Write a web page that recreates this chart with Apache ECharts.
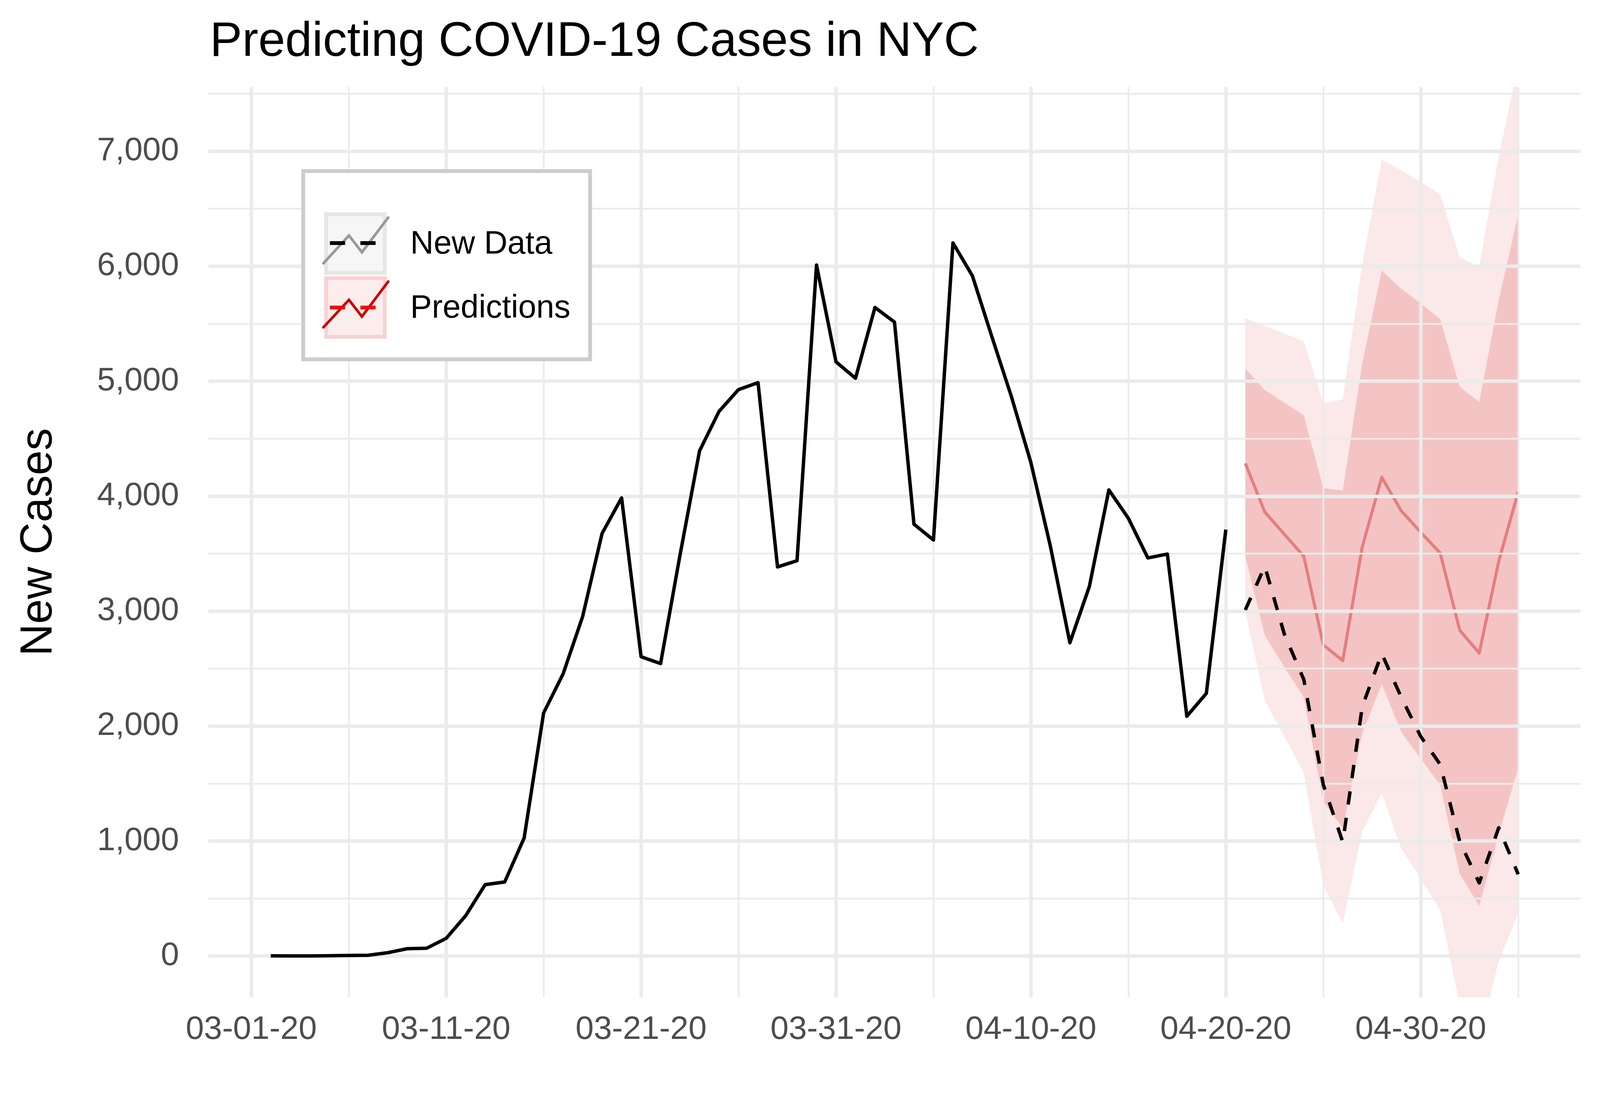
<!DOCTYPE html>
<html>
  <head>
    <meta charset="utf-8" />
    <title>Predicting COVID-19 Cases in NYC</title>
    <script
      type="text/javascript"
      src="https://cdn.jsdelivr.net/npm/echarts@6/dist/echarts.min.js"
    ></script>
    <style>
      * {
        padding: 0;
        margin: 0;
      }

      html,
      body {
        overflow: hidden;
        background: #fff;
      }
    </style>
  </head>
  <body>
    <div id="chart-panel"></div>
    <script type="text/javascript">
      // x axis is counted in days since 03-01-20
      const axisOrigin = "2020-03-01";

      // reported new cases, 03-02-20 .. 04-20-20
      const observedStart = "2020-03-02";
      const observed = [
        1, 0, 0, 2, 4, 6, 28, 63, 67, 153,
        350, 620, 643, 1026, 2114, 2454, 2952, 3676, 3984, 2603,
        2543, 3490, 4394, 4737, 4927, 4987, 3384, 3438, 6010, 5168,
        5025, 5641, 5514, 3756, 3618, 6203, 5915, 5385, 4865, 4291,
        3563, 2724, 3215, 4054, 3807, 3462, 3496, 2085, 2284, 3709,
      ];

      // held-out new data and model output, 04-21-20 .. 05-05-20
      const forecastStart = "2020-04-21";
      const newData = [
        3010, 3390, 2800, 2404, 1490, 990, 2170, 2630, 2250, 1909,
        1665, 995, 635, 1115, 710,
      ];
      const predicted = [
        4285, 3861, 3669, 3476, 2706, 2569, 3559, 4164, 3872, 3685,
        3504, 2833, 2635, 3432, 4037,
      ];
      const innerLower = [
        3476, 2789, 2514, 2250, 1342, 1111, 1936, 2365, 1947, 1716,
        1485, 715, 435, 1056, 1634,
      ];
      const innerUpper = [
        5110, 4923, 4813, 4703, 4070, 4048, 5154, 5963, 5803, 5677,
        5539, 4950, 4818, 5704, 6447,
      ];
      const outerLower = [
        3000, 2222, 1909, 1595, 616, 286, 1084, 1414, 935, 671,
        396, -420, -730, -44, 369,
      ];
      const outerUpper = [
        5550, 5479, 5413, 5347, 4807, 4840, 6017, 6925, 6832, 6733,
        6623, 6073, 5996, 6953, 7760,
      ];

      // axis ticks / grid lines
      const xMajorTicks = [0, 10, 20, 30, 40, 50, 60];
      const xMinorTicks = [5, 15, 25, 35, 45, 55, 65];
      const yMajorTicks = [0, 1000, 2000, 3000, 4000, 5000, 6000, 7000];
      const yMinorTicks = [500, 1500, 2500, 3500, 4500, 5500, 6500, 7500];

      // layout was measured on a 4200x2800 picture
      var S = window.innerWidth / 4200;
      function P(v) {
        return v * S;
      }

      var panel = document.getElementById("chart-panel");
      panel.style.width = P(4200) + "px";
      panel.style.height = P(2800) + "px";

      function dayOf(iso) {
        return (Date.parse(iso) - Date.parse(axisOrigin)) / 86400000;
      }

      function toPoints(start, values) {
        var d0 = dayOf(start);
        return values.map(function (v, i) {
          return [d0 + i, v];
        });
      }

      function toBand(start, lo, hi) {
        var d0 = dayOf(start);
        return lo.map(function (v, i) {
          return [d0 + i, v, hi[i]];
        });
      }

      function dateLabel(v) {
        var d = new Date(Date.parse(axisOrigin) + v * 86400000);
        var mm = String(d.getUTCMonth() + 1).padStart(2, "0");
        var dd = String(d.getUTCDate()).padStart(2, "0");
        var yy = String(d.getUTCFullYear()).slice(2);
        return mm + "-" + dd + "-" + yy;
      }

      // whole ribbon as one polygon, drawn once
      function bandRenderer(fill) {
        return function (params, api) {
          if (params.dataIndexInside !== 0) return;
          var n = params.dataInsideLength;
          var upper = [];
          var lower = [];
          for (var i = 0; i < n; i++) {
            upper.push(api.coord([api.value(0, i), api.value(2, i)]));
            lower.unshift(api.coord([api.value(0, i), api.value(1, i)]));
          }
          return {
            type: "polygon",
            shape: { points: upper.concat(lower) },
            style: { fill: fill },
          };
        };
      }

      var firstDay = dayOf(observedStart);
      var lastDay = dayOf(forecastStart) + newData.length - 1;
      var xPad = (lastDay - firstDay) * 0.05;

      var font = "Liberation Sans";
      var gridColor = "#EBEBEB";

      var gridLines = []
        .concat(
          xMinorTicks.map(function (v) {
            return { xAxis: v, lineStyle: { width: P(4.6) } };
          })
        )
        .concat(
          yMinorTicks.map(function (v) {
            return { yAxis: v, lineStyle: { width: P(4.6) } };
          })
        )
        .concat(
          xMajorTicks.map(function (v) {
            return { xAxis: v, lineStyle: { width: P(9) } };
          })
        )
        .concat(
          yMajorTicks.map(function (v) {
            return { yAxis: v, lineStyle: { width: P(9) } };
          })
        );

      var myChart = echarts.init(panel);

      var option = {
        animation: false,
        backgroundColor: "#fff",
        title: {
          text: "Predicting COVID-19 Cases in NYC",
          left: P(551),
          top: P(48),
          padding: 0,
          textStyle: {
            fontFamily: font,
            fontSize: P(127),
            fontWeight: "normal",
            color: "#000",
          },
        },
        grid: {
          left: P(547),
          right: P(51),
          top: P(228),
          bottom: P(183),
          containLabel: false,
        },
        xAxis: {
          type: "value",
          min: firstDay - xPad,
          max: lastDay + xPad,
          axisLine: { show: false },
          axisTick: { show: false },
          splitLine: { show: false },
          axisLabel: {
            customValues: xMajorTicks,
            margin: P(42),
            fontFamily: font,
            fontSize: P(86),
            color: "#4D4D4D",
            formatter: dateLabel,
          },
        },
        yAxis: {
          type: "value",
          min: -360,
          max: 7560,
          name: "New Cases",
          nameLocation: "middle",
          nameRotate: 90,
          nameGap: P(385),
          nameTextStyle: {
            fontFamily: font,
            fontSize: P(117),
            color: "#000",
          },
          axisLine: { show: false },
          axisTick: { show: false },
          splitLine: { show: false },
          axisLabel: {
            customValues: yMajorTicks,
            margin: P(77),
            fontFamily: font,
            fontSize: P(86),
            color: "#4D4D4D",
            formatter: function (v) {
              return v.toLocaleString("en-US");
            },
          },
        },
        series: [
          {
            name: "grid",
            type: "line",
            z: 1,
            silent: true,
            symbol: "none",
            data: toPoints(observedStart, observed),
            lineStyle: { opacity: 0 },
            markLine: {
              silent: true,
              symbol: ["none", "none"],
              label: { show: false },
              lineStyle: { color: gridColor, type: "solid" },
              data: gridLines,
            },
          },
          {
            name: "outerBand",
            type: "custom",
            z: 2,
            clip: true,
            silent: true,
            data: toBand(forecastStart, outerLower, outerUpper),
            encode: { x: 0, y: [1, 2] },
            renderItem: bandRenderer("rgba(220, 50, 50, 0.11)"),
          },
          {
            name: "innerBand",
            type: "custom",
            z: 3,
            clip: true,
            silent: true,
            data: toBand(forecastStart, innerLower, innerUpper),
            encode: { x: 0, y: [1, 2] },
            renderItem: bandRenderer("rgba(220, 50, 50, 0.195)"),
          },
          {
            name: "Predictions",
            type: "line",
            z: 4,
            symbol: "none",
            data: toPoints(forecastStart, predicted),
            lineStyle: { color: "#E47E7E", width: P(8), join: "round" },
          },
          {
            name: "New Data",
            type: "line",
            z: 5,
            symbol: "none",
            data: toPoints(forecastStart, newData),
            lineStyle: {
              color: "#000",
              width: P(9),
              type: [P(35), P(35)],
              cap: "butt",
              join: "round",
            },
          },
          {
            name: "Observed",
            type: "line",
            z: 5,
            symbol: "none",
            data: toPoints(observedStart, observed),
            lineStyle: { color: "#000", width: P(9), join: "round" },
          },
        ],
        // ggplot-style legend box drawn by hand
        graphic: [
          {
            type: "rect",
            z: 10,
            shape: { x: P(796), y: P(449), width: P(753), height: P(494) },
            style: { fill: "#fff", stroke: "#CCCCCC", lineWidth: P(10) },
          },
          {
            type: "rect",
            z: 11,
            shape: { x: P(856), y: P(562), width: P(154), height: P(154) },
            style: { fill: "#F6F6F6", stroke: "#E6E6E6", lineWidth: P(10) },
          },
          {
            type: "rect",
            z: 11,
            shape: { x: P(856), y: P(730), width: P(154), height: P(154) },
            style: { fill: "#FCEDED", stroke: "#F8D2D2", lineWidth: P(10) },
          },
          {
            type: "polyline",
            z: 12,
            shape: {
              points: [[P(849), P(691)], [P(916), P(618)], [P(950), P(662)], [P(1019), P(571)]],
            },
            style: { stroke: "#999999", lineWidth: P(7), fill: null, lineCap: "round" },
          },
          {
            type: "polyline",
            z: 12,
            shape: {
              points: [[P(849), P(859)], [P(916), P(787)], [P(950), P(831)], [P(1019), P(739)]],
            },
            style: { stroke: "#CC0000", lineWidth: P(7), fill: null, lineCap: "round" },
          },
          {
            type: "line",
            z: 13,
            shape: { x1: P(866), y1: P(638), x2: P(906), y2: P(638) },
            style: { stroke: "#000", lineWidth: P(10) },
          },
          {
            type: "line",
            z: 13,
            shape: { x1: P(946), y1: P(638), x2: P(986), y2: P(638) },
            style: { stroke: "#000", lineWidth: P(10) },
          },
          {
            type: "line",
            z: 13,
            shape: { x1: P(866), y1: P(807), x2: P(906), y2: P(807) },
            style: { stroke: "#FF0000", lineWidth: P(10) },
          },
          {
            type: "line",
            z: 13,
            shape: { x1: P(946), y1: P(807), x2: P(986), y2: P(807) },
            style: { stroke: "#FF0000", lineWidth: P(10) },
          },
          {
            type: "text",
            z: 13,
            x: P(1077),
            y: P(642),
            style: {
              text: "New Data",
              fontFamily: font,
              fontSize: P(85),
              fill: "#000",
              verticalAlign: "middle",
            },
          },
          {
            type: "text",
            z: 13,
            x: P(1077),
            y: P(810),
            style: {
              text: "Predictions",
              fontFamily: font,
              fontSize: P(85),
              fill: "#000",
              verticalAlign: "middle",
            },
          },
        ],
      };

      myChart.setOption(option);
      window.addEventListener("resize", myChart.resize);
    </script>
  </body>
</html>
